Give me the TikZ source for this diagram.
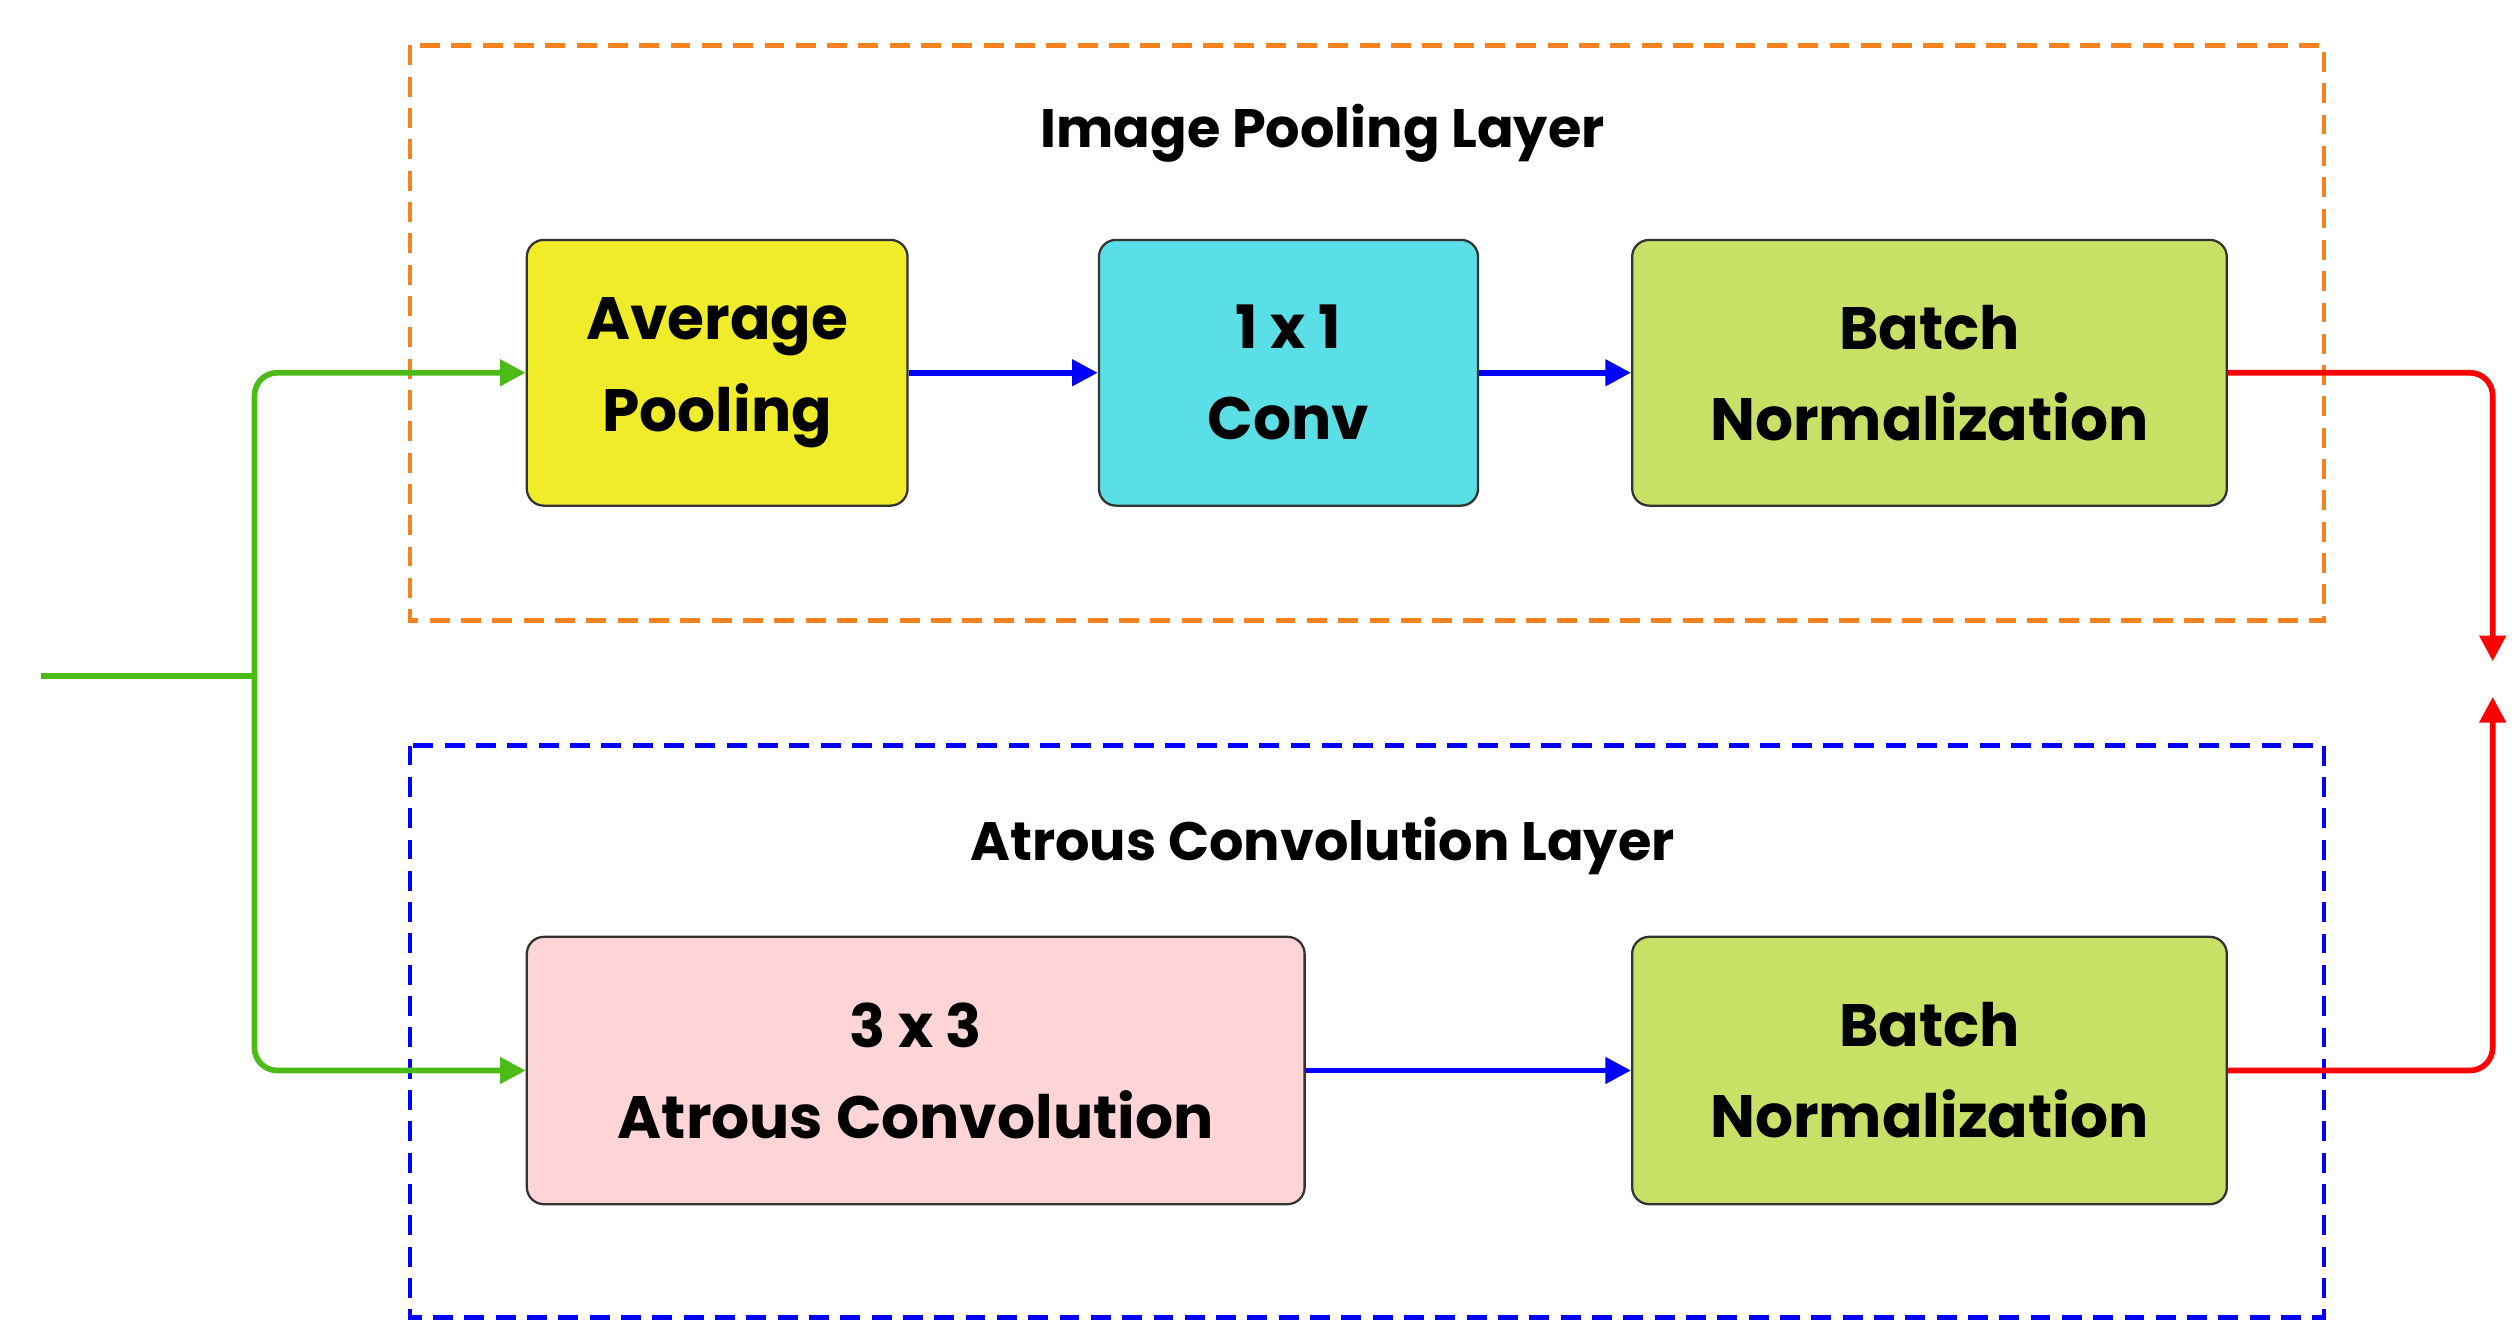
\documentclass[tikz,border=0pt]{standalone}
\usepackage{fontspec}
\setmainfont{Poppins}
\usetikzlibrary{arrows.meta}
\definecolor{yel}{HTML}{F0EC2A}
\definecolor{cya}{HTML}{5BDFE6}
\definecolor{lgr}{HTML}{C9E066}
\definecolor{pnk}{HTML}{FDD5D6}
\definecolor{grn}{HTML}{4CBB17}
\definecolor{org}{HTML}{F5821F}
\begin{document}
\begin{tikzpicture}[x=0.02cm,y=-0.02cm,
  box/.style={draw=black!80,line width=0.8pt,rounded corners=6pt,align=center,
    font=\fontsize{21}{32}\selectfont\bfseries,inner sep=0pt},
  ttl/.style={font=\fontsize{19}{24}\selectfont\bfseries},
  frame/.style={dashed,line width=1.6pt,dash pattern=on 7pt off 4pt},
  arr/.style={line width=2pt,-{Triangle[length=9pt,width=9pt]}},
  ln/.style={line width=2pt,rounded corners=8pt}]
\useasboundingbox (0,0) rectangle (1553,828);
\draw[frame,draw=org] (253,28) rectangle (1434,383);
\draw[frame,draw=blue] (253,460) rectangle (1434,813);
\node[ttl] (t1) at (816,82) {Image Pooling Layer};
\node[ttl] (t2) at (816,522) {Atrous Convolution Layer};
\node[box,fill=yel,minimum width=4.7cm,minimum height=3.28cm] (ap) at (442.5,230) {Average\\Pooling};
\node[box,fill=cya,minimum width=4.68cm,minimum height=3.28cm] (cv) at (795,230) {1 x 1\\Conv};
\node[box,fill=lgr,minimum width=7.34cm,minimum height=3.28cm] (bn1) at (1190.5,230) {Batch\\Normalization};
\node[box,fill=pnk,minimum width=9.6cm,minimum height=3.3cm] (at) at (565,660.5) {3 x 3\\Atrous Convolution};
\node[box,fill=lgr,minimum width=7.34cm,minimum height=3.3cm] (bn2) at (1190.5,660.5) {Batch\\Normalization};
\coordinate (in) at (25,417);
\coordinate (sp) at (157,417);
\coordinate (m1) at (1538,408);
\coordinate (m2) at (1538,430);
\draw[ln,grn] (in) -- (sp);
\draw[ln,grn,arr] (sp) |- (ap.west);
\draw[ln,grn,arr] (sp) |- (at.west);
\draw[arr,blue] (ap) -- (cv);
\draw[arr,blue] (cv) -- (bn1);
\draw[arr,blue] (at) -- (bn2);
\draw[ln,red,arr] (bn1.east) -| (m1);
\draw[ln,red,arr] (bn2.east) -| (m2);
\end{tikzpicture}
\end{document}
